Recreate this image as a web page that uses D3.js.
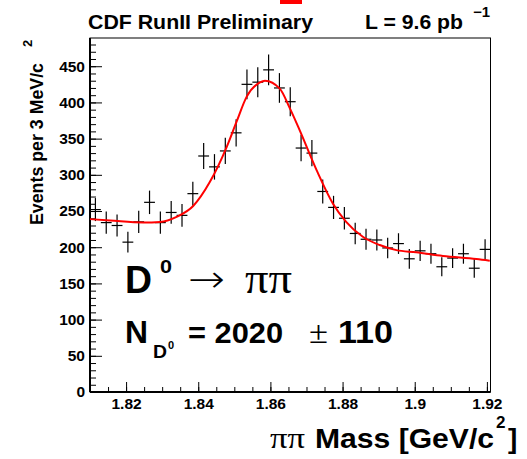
<!DOCTYPE html>
<html>
<head>
<meta charset="utf-8">
<script src="https://cdn.jsdelivr.net/npm/d3@7"></script>
<style>
    body { margin: 0; background: #fff; }
    text { font-family: "Liberation Sans", Arial, sans-serif; font-weight: bold; fill: #000; }
    .sym { font-family: "Liberation Serif", "Times New Roman", serif; font-weight: normal; }
    .arrow { font-family: "DejaVu Sans", sans-serif; font-weight: 200; }
</style>
</head>
<body>
<script>
const w = 527; // width
const h = 459; // height
const m = {top: 38, right: 36.5, bottom: 67, left: 90};

// 3 MeV bins, centres in GeV/c^2
const binCenters = [1.8115, 1.8145, 1.8175, 1.8205, 1.8235, 1.8265, 1.8295, 1.8325, 1.8355, 1.8385,
    1.8415, 1.8445, 1.8475, 1.8505, 1.8535, 1.8565, 1.8595, 1.8625, 1.8655, 1.8685,
    1.8715, 1.8745, 1.8775, 1.8805, 1.8835, 1.8865, 1.8895, 1.8925, 1.8955, 1.8985,
    1.9015, 1.9045, 1.9075, 1.9105, 1.9135, 1.9165, 1.9195];
const binHalf = 0.0015;
const counts = [252, 234, 230, 207, 235, 262, 234, 248, 244, 274,
    326, 311, 333, 358, 425, 428, 445, 420, 401, 337,
    330, 277, 255, 240, 219, 211, 210, 199, 205, 184,
    195, 191, 173, 185, 191, 171, 197];
const errors = [15.9, 15.3, 15.2, 14.4, 15.3, 16.2, 15.3, 15.7, 15.6, 16.6,
    18.1, 17.6, 18.2, 18.9, 20.6, 20.7, 21.1, 20.5, 20.0, 18.4,
    18.2, 16.6, 16.0, 15.5, 14.8, 14.5, 14.5, 14.1, 14.3, 13.6,
    14.0, 13.8, 13.2, 13.6, 13.8, 13.1, 14.0];

// fit curve
const fitMass = [1.8100, 1.8156, 1.8248, 1.8294, 1.8340, 1.8386, 1.8432, 1.8479, 1.8506, 1.8534,
    1.8571, 1.8585, 1.8626, 1.8654, 1.8681, 1.8728, 1.8773, 1.8810, 1.8856, 1.8903,
    1.8949, 1.9004, 1.9078, 1.9171, 1.9208];
const fitValue = [238.8, 237, 234.3, 235, 242, 257, 290, 338.7, 373, 407.7,
    427.6, 430, 419, 391.7, 361.7, 306.5, 260.5, 235, 214.4, 203,
    196, 192.9, 187.8, 183.6, 181.3];

const xTicks = [1.82, 1.84, 1.86, 1.88, 1.9, 1.92];
const xTickLabels = ["1.82", "1.84", "1.86", "1.88", "1.9", "1.92"];
const yTicks = [0, 50, 100, 150, 200, 250, 300, 350, 400, 450];
const yTickLabels = ["0", "50", "100", "150", "200", "250", "300", "350", "400", "450"];

let svg = d3.select("body")
    .append("svg")
    .attr('width', w)
    .attr('height', h);

// scales
let x = d3.scaleLinear().domain([1.81, 1.921]).range([m.left, w - m.right]);
let y = d3.scaleLinear().domain([0, 489]).range([h - m.bottom, m.top]);

// frame
svg.append("rect")
    .attr("x", m.left).attr("y", m.top)
    .attr("width", w - m.right - m.left).attr("height", h - m.bottom - m.top)
    .attr("fill", "none").attr("stroke", "#000").attr("stroke-width", 1);

// minor ticks
svg.append("g")
    .attr('transform', `translate(0,${h - m.bottom})`)
    .call(d3.axisBottom(x).tickValues(d3.range(1.81, 1.9211, 0.005)).tickSize(-5).tickFormat(""))
    .call(g => g.select(".domain").remove());
svg.append("g")
    .attr('transform', `translate(${m.left},0)`)
    .call(d3.axisLeft(y).tickValues(d3.range(0, 490, 10)).tickSize(-6).tickFormat(""))
    .call(g => g.select(".domain").remove());

// x axis
let gX = svg.append("g")
    .attr('transform', `translate(0,${h - m.bottom})`)
    .call(d3.axisBottom(x).tickValues(xTicks).tickSize(-10).tickPadding(6)
        .tickFormat((d, i) => xTickLabels[i]));
gX.select(".domain").remove();
gX.selectAll("text").style("font-size", "15.5px").style("font-family", null).attr("fill", "#000");

// y axis
let gY = svg.append("g")
    .attr('transform', `translate(${m.left},0)`)
    .call(d3.axisLeft(y).tickValues(yTicks).tickSize(-12).tickPadding(5)
        .tickFormat((d, i) => yTickLabels[i]));
gY.select(".domain").remove();
gY.selectAll("text").style("font-size", "15.5px").style("font-family", null).attr("fill", "#000");

// axis lines
svg.append("line").attr("x1", m.left).attr("x2", w - m.right)
    .attr("y1", h - m.bottom).attr("y2", h - m.bottom).attr("stroke", "#000").attr("stroke-width", 2);
svg.append("line").attr("x1", m.left).attr("x2", m.left)
    .attr("y1", m.top).attr("y2", h - m.bottom).attr("stroke", "#000").attr("stroke-width", 2);

// data crosses
let pts = svg.append("g").attr("stroke", "#000").attr("stroke-width", 1.2);
pts.selectAll(".hbar")
    .data(binCenters)
    .enter()
    .append("line")
    .attr("x1", (d) => x(d - binHalf))
    .attr("x2", (d) => x(d + binHalf))
    .attr("y1", (d, i) => y(counts[i]))
    .attr("y2", (d, i) => y(counts[i]));
pts.selectAll(".vbar")
    .data(binCenters)
    .enter()
    .append("line")
    .attr("x1", (d) => x(d))
    .attr("x2", (d) => x(d))
    .attr("y1", (d, i) => y(counts[i] - errors[i]))
    .attr("y2", (d, i) => y(counts[i] + errors[i]));

// fit
let line = d3.line()
    .x((d, i) => x(fitMass[i]))
    .y((d, i) => y(fitValue[i]))
    .curve(d3.curveMonotoneX);
svg.append("path")
    .attr("d", line(fitMass))
    .attr("fill", "none")
    .attr("stroke", "#f00")
    .attr("stroke-width", 2);

// helper for text stretched to the measured width
function label(cls, xx, yy, size, str, len) {
    let t = svg.append("text").attr("x", xx).attr("y", yy).style("font-size", size + "px").text(str);
    if (cls) t.attr("class", cls);
    if (len) t.attr("textLength", len).attr("lengthAdjust", "spacingAndGlyphs");
    return t;
}

// titles
label(null, 88, 29, 21, "CDF RunII Preliminary", 225);
label(null, 365, 29, 21, "L = 9.6 pb", 98);
label(null, 473, 17, 14, "\u22121", 17);
svg.append("rect").attr("x", 280).attr("y", 0).attr("width", 22).attr("height", 4).attr("fill", "#f00");

// y label
svg.append("text")
    .attr("transform", "rotate(-90)")
    .attr("x", -225).attr("y", 43)
    .style("font-size", "18px")
    .attr("textLength", 162).attr("lengthAdjust", "spacingAndGlyphs")
    .text("Events per 3 MeV/c");
svg.append("text")
    .attr("transform", "rotate(-90)")
    .attr("x", -47).attr("y", 32)
    .style("font-size", "13px")
    .text("2");

// x label
label("sym", 270, 448, 30, "\u03c0\u03c0", 35);
label(null, 315, 448, 28, "Mass [GeV/c", 179);
label(null, 496, 428, 17, "2");
label(null, 508, 448, 28, "]");

// decay label
label(null, 125, 293, 39, "D", 27);
label(null, 160, 273, 19, "0", 12);
label("arrow", 188, 292, 38, "\u2192", 37);
label("sym", 245, 293, 44, "\u03c0\u03c0", 47);

label(null, 125, 343, 31, "N", 23);
label(null, 153, 358, 19, "D", 14);
label(null, 168, 349, 11, "0");
label(null, 188, 343, 30, "= 2020", 95);
label("sym", 309, 343, 32, "\u00b1", 19);
label(null, 338, 343, 31, "110", 55);
</script>
</body>
</html>
